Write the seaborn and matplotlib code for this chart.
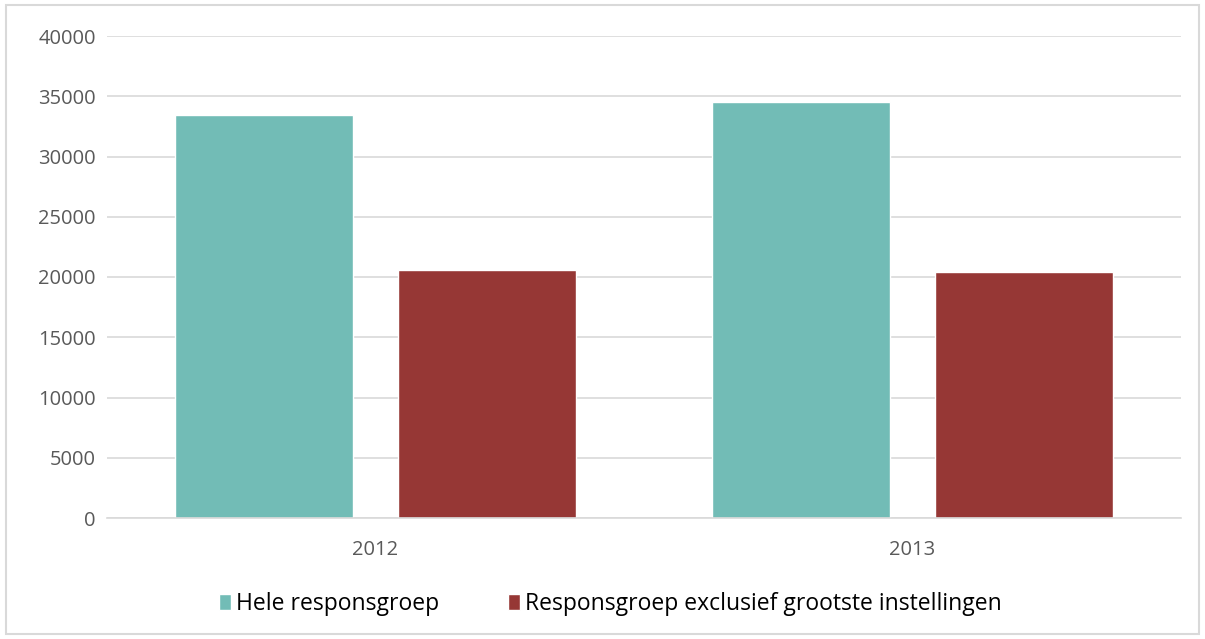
import numpy as np
import pandas as pd
import matplotlib
matplotlib.use('Agg')
import matplotlib.pyplot as plt
import seaborn as sns
from matplotlib.patches import Rectangle

# data
years = ['2012', '2013']
series = ['Hele responsgroep', 'Responsgroep exclusief grootste instellingen']
hele = [33450, 34550]
exclusief = [20550, 20400]
yticks = list(range(0, 40001, 5000))
colors = ['#72BCB6', '#963735']

df = pd.DataFrame({
    'jaar': years * 2,
    'groep': [series[0]] * len(years) + [series[1]] * len(years),
    'waarde': hele + exclusief,
})

sns.set_style('white')
plt.rcParams['font.family'] = ['Open Sans', 'DejaVu Sans']
text_col = '#595959'

fig = plt.figure(figsize=(12.05, 6.39), dpi=100)
ax = fig.add_axes([107 / 1205, 1 - 518 / 639, (1181 - 107) / 1205, (518 - 36) / 639])

sns.barplot(data=df, x='jaar', y='waarde', hue='groep', palette=colors,
            width=0.83, gap=0.2, saturation=1, ax=ax, legend=True)

ax.set_ylim(0, 40000)
ax.set_yticks(yticks)
ax.set_yticklabels([str(t) for t in yticks])
ax.yaxis.grid(True, color='#d9d9d9', linewidth=1.2)
ax.set_axisbelow(True)
for s in ['top', 'right', 'left']:
    ax.spines[s].set_visible(False)
ax.spines['bottom'].set_color('#d9d9d9')
ax.spines['bottom'].set_linewidth(1.2)
ax.tick_params(axis='both', length=0, labelsize=14.5, colors=text_col, pad=8)
ax.tick_params(axis='x', pad=16)
ax.set_xlabel('')
ax.set_ylabel('')

handles, labels = ax.get_legend_handles_labels()
ax.legend(handles, labels, loc='center', bbox_to_anchor=(610 / 1205, 1 - 604 / 639),
          bbox_transform=fig.transFigure, ncol=2, frameon=False, fontsize=16.5,
          handlelength=0.55, handleheight=0.65, handletextpad=0.2, columnspacing=3.0,
          labelcolor='black')

fig.patches.append(Rectangle((6 / 1205, 5 / 639), 1193 / 1205, 629 / 639,
                             transform=fig.transFigure, fill=False,
                             edgecolor='#d9d9d9', linewidth=1.5))

plt.savefig('out.png', dpi=100)
